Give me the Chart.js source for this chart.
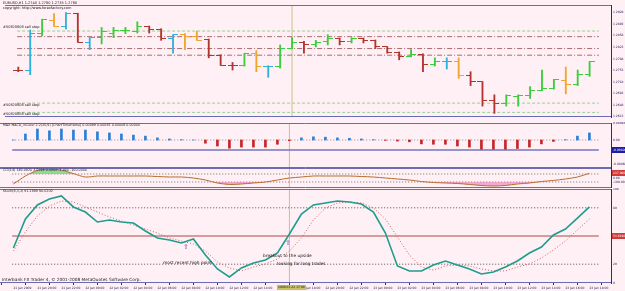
<!DOCTYPE html>
<html>
<head>
<meta charset="utf-8">
<script src="https://cdn.jsdelivr.net/npm/chart.js@4/dist/chart.umd.min.js"></script>
<style>
  body { margin: 0; background: #fff0f5; }
  #wrap { position: relative; width: 625px; height: 291px; background: #fff0f5; overflow: hidden;
          font-family: "DejaVu Sans", sans-serif; }
  #wrap canvas { position: absolute; left: 0; }
  .t { position: absolute; white-space: nowrap; line-height: 1; color: #202020; }
</style>
</head>
<body>
<div id="wrap"></div>
<script>
// ---- chart data (H1 bars, 21 Jan 18:00 .. 23 Jan 18:00) ----
const xLabels = ['21 Jan 2009', '21 Jan 20:00', '21 Jan 22:00', '22 Jan 00:00', '22 Jan 02:00',
  '22 Jan 04:00', '22 Jan 06:00', '22 Jan 08:00', '22 Jan 10:00', '22 Jan 12:00', '22 Jan 14:00',
  '22 Jan 16:00', '22 Jan 18:00', '22 Jan 20:00', '22 Jan 22:00', '23 Jan 00:00', '23 Jan 02:00',
  '23 Jan 04:00', '23 Jan 06:00', '23 Jan 08:00', '23 Jan 10:00', '23 Jan 12:00', '23 Jan 14:00',
  '23 Jan 16:00', '23 Jan 18:00'];

// bar colour codes: r = down, g = up, c = cyan, o = orange
const barColor = ['r','c','g','o','c','r','c','g','g','g','g','r','r','c','o','o','r','r','r','g',
  'o','c','g','g','r','g','g','r','g','r','r','r','r','g','r','g','c','o','r','r',
  'r','g','g','g','g','g','o','g','g'];

const opens = [1.2754, 1.2754, 1.2866, 1.2903, 1.2886, 1.2925, 1.2838, 1.2852, 1.2866, 1.2875,
  1.2872, 1.2886, 1.2878, 1.2850, 1.2861, 1.2855, 1.2847, 1.2799, 1.2768, 1.2768,
  1.2805, 1.2766, 1.2766, 1.2819, 1.2838, 1.2830, 1.2841, 1.2850, 1.2841, 1.2850,
  1.2844, 1.2824, 1.2808, 1.2796, 1.2802, 1.2771, 1.2780, 1.2779, 1.2738, 1.2718,
  1.2662, 1.2654, 1.2673, 1.2676, 1.2693, 1.2698, 1.2721, 1.2710, 1.2740];
const highs = [1.2763, 1.2875, 1.2908, 1.2925, 1.2928, 1.2926, 1.2852, 1.2883, 1.2883, 1.2883,
  1.2900, 1.2887, 1.2879, 1.2861, 1.2864, 1.2872, 1.2848, 1.2800, 1.2777, 1.2805,
  1.2813, 1.2767, 1.2830, 1.2852, 1.2841, 1.2844, 1.2861, 1.2851, 1.2852, 1.2851,
  1.2845, 1.2825, 1.2809, 1.2816, 1.2803, 1.2791, 1.2791, 1.2791, 1.2749, 1.2719,
  1.2679, 1.2679, 1.2679, 1.2704, 1.2754, 1.2726, 1.2763, 1.2754, 1.2780];
const lows = [1.2749, 1.2740, 1.2858, 1.2886, 1.2878, 1.2838, 1.2816, 1.2833, 1.2852, 1.2864,
  1.2866, 1.2866, 1.2844, 1.2805, 1.2816, 1.2844, 1.2791, 1.2768, 1.2754, 1.2766,
  1.2749, 1.2732, 1.2760, 1.2818, 1.2805, 1.2824, 1.2830, 1.2830, 1.2836, 1.2836,
  1.2819, 1.2805, 1.2785, 1.2794, 1.2749, 1.2766, 1.2757, 1.2729, 1.2707, 1.2645,
  1.2623, 1.2645, 1.2645, 1.2668, 1.2692, 1.2696, 1.2682, 1.2707, 1.2735];
const closes = [1.2754, 1.2866, 1.2906, 1.2886, 1.2925, 1.2838, 1.2852, 1.2872, 1.2875, 1.2875,
  1.2886, 1.2878, 1.2850, 1.2861, 1.2855, 1.2844, 1.2799, 1.2768, 1.2768, 1.2805,
  1.2766, 1.2765, 1.2819, 1.2838, 1.2830, 1.2838, 1.2850, 1.2841, 1.2850, 1.2844,
  1.2824, 1.2808, 1.2796, 1.2802, 1.2771, 1.2780, 1.2779, 1.2738, 1.2718, 1.2662,
  1.2654, 1.2676, 1.2676, 1.2693, 1.2698, 1.2724, 1.2710, 1.2740, 1.2780];
const priceTicks = [1.2928, 1.2893, 1.2858, 1.2823, 1.2788, 1.2753, 1.2718, 1.2683, 1.2648, 1.2613];
const sellStops = [1.2872, 1.2654, 1.2626];
const orderLevels = [1.2855, 1.2819, 1.2799];

const macdHist = [0, 0.00017, 0.00031, 0.00026, 0.00031, 0.00028, 0.00028, 0.00023, 0.00020, 0.00017,
  0.00014, 0.00011, 0.00006, 0.00003, 0.00001, 0, -0.00009, -0.00017, -0.00023, -0.00020,
  -0.00020, -0.00020, -0.00012, -0.00002, 0.00006, 0.00009, 0.00008, 0.00006, 0.00005, 0.00003,
  0.00001, -0.00001, -0.00003, -0.00005, -0.00011, -0.00012, -0.00012, -0.00017, -0.00020, -0.00026,
  -0.00026, -0.00026, -0.00024, -0.00020, -0.00011, -0.00004, 0.00001, 0.00011, 0.00020];
const macdTicks = [0.00048, 0, -0.00068];
const macdMark = -0.00028;

const cci = [-150, 50, 190, 220, 200, 110, 25, 50, 50, 50,
  50, 50, 37, 25, 25, 0, -50, -125, -162, -150,
  -125, -100, -50, 0, 25, 50, 50, 50, 50, 37,
  25, 0, -25, -50, -87, -112, -125, -137, -162, -187,
  -200, -187, -150, -125, -87, -62, -25, 25, 117];
const cciTicks = [0, -100];
const cciLevels = [100, -100];

const stochMain = [37.2, 68.1, 83.0, 89.4, 92.6, 80.9, 75.5, 64.9, 67.0, 64.9,
  63.8, 55.3, 47.9, 45.7, 42.6, 46.8, 29.8, 14.9, 6.4, 16.0,
  21.3, 24.5, 31.9, 52.1, 73.4, 83.0, 85.1, 87.2, 86.2, 84.0,
  75.5, 53.2, 18.1, 12.8, 12.8, 19.1, 23.4, 19.1, 14.9, 9.6,
  11.7, 17.0, 23.4, 31.9, 38.3, 51.1, 57.4, 69.1, 80.9];
const stochSignal = [34.0, 54.3, 71.3, 81.9, 87.2, 86.2, 80.9, 75.5, 70.2, 66.0,
  61.7, 57.4, 53.2, 47.9, 44.7, 41.5, 34.0, 22.3, 16.0, 12.8,
  17.0, 20.2, 25.5, 34.0, 47.9, 67.0, 79.8, 85.1, 86.2, 85.1,
  79.8, 68.1, 48.9, 29.8, 17.0, 13.8, 18.1, 19.1, 18.1, 14.9,
  12.8, 12.8, 17.0, 20.2, 26.6, 35.1, 44.7, 56.4, 68.1];
const stochTicks = [100, 80, 20, 0];
const stochDotted = [80, 20];
const stochMid = 50;

const cursorBar = 23;

// ---- layout ----
const W = 625, AXIS_W = 14;
const X_MIN = -0.1, X_MAX = 48.78;
const COLORS = { r: '#b3342e', g: '#3ccc3c', c: '#2db2dc', o: '#f0a531' };
const FRAME = '#6b6bb5';
const wrap = document.getElementById('wrap');
const idx = opens.map((_, i) => i);

const tickCache = {};
function tickImage(color, side) {
  const key = color + side;
  if (!tickCache[key]) {
    const c = document.createElement('canvas');
    c.width = 10; c.height = 1;
    const g = c.getContext('2d');
    g.fillStyle = color;
    g.fillRect(side === 'left' ? 0 : 5, 0, 5, 1);
    tickCache[key] = c;
  }
  return tickCache[key];
}

function hLine(v, color, dash, width) {
  return { type: 'line', data: [{ x: X_MIN, y: v }, { x: X_MAX, y: v }], borderColor: color,
    borderDash: dash || [], borderWidth: width || 1, pointRadius: 0, order: 5 };
}
function vLine(min, max) {
  return { type: 'line', data: [{ x: cursorBar, y: min }, { x: cursorBar, y: max }],
    borderColor: '#c9c08e', borderWidth: 1, pointRadius: 0, order: 6 };
}

const framePlugin = {
  id: 'frame',
  afterDraw(chart, args, opts) {
    const { ctx, chartArea: a } = chart;
    ctx.save();
    ctx.strokeStyle = FRAME;
    ctx.lineWidth = 1;
    ctx.beginPath();
    ctx.moveTo(a.left, a.top + 0.5); ctx.lineTo(a.right, a.top + 0.5);
    ctx.moveTo(a.left, a.bottom - 0.5); ctx.lineTo(a.right, a.bottom - 0.5);
    ctx.stroke();
    (opts.boxes || []).forEach(b => {
      const y = chart.scales.y.getPixelForValue(b.value);
      ctx.fillStyle = b.color;
      ctx.fillRect(a.right + 1, Math.round(y) - 3, AXIS_W - 1, 6);
      ctx.fillStyle = '#fff';
      ctx.font = '3px "DejaVu Sans"';
      ctx.textBaseline = 'middle';
      ctx.fillText(b.text, a.right + 2, y);
    });
    ctx.restore();
  }
};

function makePane(cfg) {
  const cv = document.createElement('canvas');
  cv.width = W; cv.height = cfg.height;
  cv.style.top = cfg.top + 'px';
  wrap.appendChild(cv);
  const fmt = cfg.fmt;
  return new Chart(cv.getContext('2d'), {
    type: 'bar',
    data: { datasets: cfg.datasets },
    plugins: [framePlugin],
    options: {
      responsive: false, animation: false, events: [],
      layout: { padding: { top: cfg.padTop || 0, bottom: 0, left: 0, right: 0 } },
      plugins: { legend: { display: false }, tooltip: { enabled: false }, frame: { boxes: cfg.boxes || [] } },
      scales: {
        x: {
          type: 'linear', min: X_MIN, max: X_MAX, display: !!cfg.showX,
          grid: { display: !!cfg.showX, drawOnChartArea: false, tickLength: 2, color: '#303070' },
          border: { display: false },
          afterBuildTicks: s => { s.ticks = xLabels.map((_, k) => ({ value: 2 * k })); },
          afterFit: s => { s.paddingLeft = 0; s.paddingRight = 0; s.height = cfg.showX ? 8 : 0; },
          ticks: { autoSkip: false, maxRotation: 0, minRotation: 0, align: 'start', padding: 1,
            color: '#1a1a50', font: { size: 3, family: 'DejaVu Sans' },
            callback: (v, k) => xLabels[k] }
        },
        y: {
          position: 'right', min: cfg.min, max: cfg.max,
          grid: { display: false, drawTicks: false },
          border: { display: true, color: '#2c2c6c', width: 1 },
          afterBuildTicks: s => { s.ticks = cfg.ticks.map(v => ({ value: v })); },
          afterFit: s => { s.width = AXIS_W; s.paddingTop = 0; s.paddingBottom = 0; },
          ticks: { padding: 2, color: '#1a1a50', font: { size: 3, family: 'DejaVu Sans' },
            callback: v => fmt(v) }
        }
      }
    }
  });
}

// ---- price pane ----
const PRICE_MIN = 1.2612, PRICE_MAX = 1.29508;
makePane({
  top: 0, height: 122, padTop: 1, min: PRICE_MIN, max: PRICE_MAX, ticks: priceTicks,
  fmt: v => v.toFixed(4),
  datasets: [
    { type: 'bar', data: idx.map(i => ({ x: i, y: [lows[i], highs[i]] })),
      backgroundColor: barColor.map(k => COLORS[k]), barThickness: 1.2, grouped: false, order: 1 },
    { type: 'scatter', data: idx.map(i => ({ x: i, y: opens[i] })), pointRadius: 3,
      pointStyle: idx.map(i => tickImage(COLORS[barColor[i]], 'left')), order: 0 },
    { type: 'scatter', data: idx.map(i => ({ x: i, y: closes[i] })), pointRadius: 3,
      pointStyle: idx.map(i => tickImage(COLORS[barColor[i]], 'right')), order: 0 },
    ...sellStops.map(v => hLine(v, '#8fd48f', [3, 2])),
    ...orderLevels.map(v => hLine(v, '#a86a6a', [5, 2, 1, 2])),
    vLine(PRICE_MIN, PRICE_MAX)
  ]
});

// ---- MACD pane ----
const MACD_MIN = -0.00079, MACD_MAX = 0.00048;
makePane({
  top: 122, height: 46, padTop: 1, min: MACD_MIN, max: MACD_MAX, ticks: macdTicks,
  fmt: v => (v === 0 ? '0.00' : v.toFixed(5)),
  boxes: [{ value: macdMark, text: macdMark.toFixed(5), color: '#1c1ca0' }],
  datasets: [
    { type: 'bar', data: idx.map(i => ({ x: i, y: macdHist[i] })),
      backgroundColor: macdHist.map(v => (v >= 0 ? '#2a7fd6' : '#c3262a')),
      barThickness: 2, grouped: false, order: 1 },
    hLine(0, '#8a8a9a', [1, 2]),
    hLine(macdMark, '#7474bc', [], 1.5),
    vLine(MACD_MIN, MACD_MAX)
  ]
});

// ---- CCI pane ----
makePane({
  top: 168, height: 20, padTop: 0, min: -250, max: 250, ticks: cciTicks,
  fmt: v => v.toFixed(2),
  boxes: [{ value: cci[cci.length - 1], text: cci[cci.length - 1].toFixed(4), color: '#d23a3a' }],
  datasets: [
    { type: 'line', data: idx.map(i => ({ x: i, y: cci[i] })), borderColor: '#b46c2e', borderWidth: 1,
      pointRadius: 0, tension: 0.3, order: 1,
      fill: { target: { value: cciLevels[1] }, above: 'rgba(0,0,0,0)', below: 'rgba(240,140,190,0.7)' } },
    { type: 'line', data: idx.map(i => ({ x: i, y: cci[i] })), borderColor: 'rgba(0,0,0,0)', borderWidth: 0,
      pointRadius: 0, tension: 0.3, order: 2,
      fill: { target: { value: cciLevels[0] }, above: 'rgba(120,210,120,0.8)', below: 'rgba(0,0,0,0)' } },
    ...cciLevels.map(v => hLine(v, '#707070', [1, 2])),
    vLine(-250, 250)
  ]
});

// ---- Stochastic pane ----
makePane({
  top: 188, height: 103, padTop: 1, min: 0, max: 100, ticks: stochTicks, showX: true,
  fmt: v => String(v),
  boxes: [{ value: stochMid, text: '51.6190', color: '#d23a3a' }],
  datasets: [
    { type: 'line', data: idx.map(i => ({ x: i, y: stochMain[i] })), borderColor: '#1f9c8c',
      borderWidth: 1.6, pointRadius: 0, order: 0 },
    { type: 'line', data: idx.map(i => ({ x: i, y: stochSignal[i] })), borderColor: '#c46464',
      borderWidth: 1, borderDash: [1, 2], pointRadius: 0, order: 1 },
    ...stochDotted.map(v => hLine(v, '#505050', [1, 2])),
    hLine(stochMid, '#d99a9a', [], 2),
    vLine(0, 100)
  ]
});

// ---- text overlays ----
function label(x, y, str, size, extra) {
  const d = document.createElement('div');
  d.className = 't';
  d.style.left = x + 'px'; d.style.top = y + 'px'; d.style.fontSize = size + 'px';
  if (extra) Object.assign(d.style, extra);
  d.textContent = str;
  wrap.appendChild(d);
}
label(3, 2, 'EURUSD,H1  1.2740 1.2780 1.2735 1.2780', 3.5);
label(3, 6.5, 'copyright: http://www.forexfactory.com', 3.5);
label(3, 25.5, '#50820808 sell stop', 3.5);
label(3, 103.5, '#50820808 sell stop', 3.5);
label(3, 113, '#50820808 sell stop', 3.5);
label(3, 124, 'MAX MACD_inColor 2.2(26,9) [ChartTimeframe] 0.00099 0.00081 0.00008 0.00000', 3.3);
label(3, 169, 'CCI(14) 149.0920 3.5914 0.0000 -1.400 -100.0000', 3.3);
label(3, 190, 'Stoch(8,3,3) 91.1999 90.6209', 3.3);
label(183, 244, '\u21e7', 7, { color: '#8a3fa8' });
label(163, 261, 'most recent high point', 4.3);
label(285, 240, '\u21e7', 7, { color: '#8a3fa8' });
label(263, 254, 'breakout to the upside', 4.3);
label(277, 261.5, 'looking for long trades', 4.3);
label(2, 277.5, 'Interbank FX Trader 4, \u00a9 2001-2008 MetaQuotes Software Corp.', 4.3);
label(277, 285, '2009.01.22 17:00', 3, { background: '#c8c064', padding: '1px 1px', color: '#202020' });
</script>
</body>
</html>
